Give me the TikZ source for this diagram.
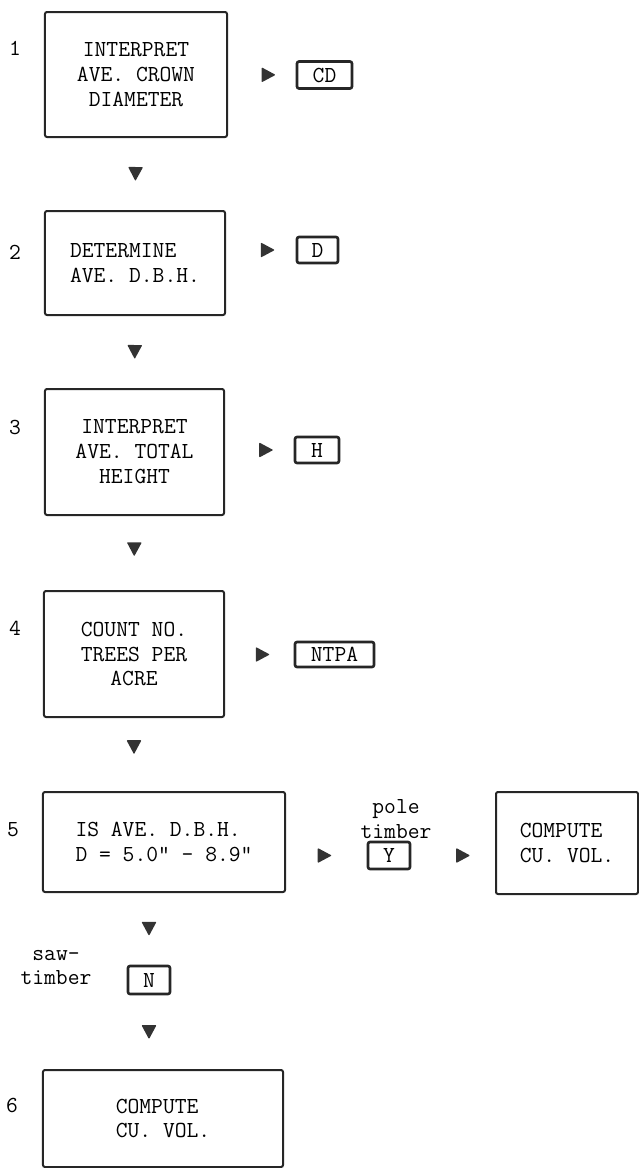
\documentclass[tikz,border=0pt]{standalone}
\usetikzlibrary{decorations.markings}

\begin{document}
\begin{tikzpicture}[
  x=1bp, y=-1bp,
  font=\ttfamily\fontsize{23}{25}\selectfont,
  stepbox/.style={rectangle, draw=black!85, line width=2bp, rounded corners=2bp, inner sep=0pt, align=center},
  valbox/.style={rectangle, draw=black!85, line width=2.6bp, rounded corners=2bp, inner sep=0pt, align=center},
  num/.style={inner sep=0pt},
  lbl/.style={inner sep=0pt, align=center},
  flow/.style={postaction={decorate}, decoration={markings, mark=at position #1 with {\fill[black!80, rounded corners=0.8bp] (7bp,0) -- (-7bp,7.5bp) -- (-7bp,-7.5bp) -- cycle;}}},
  flow/.default=0.5,
]
\useasboundingbox (0,0) rectangle (639,1168);

% steps
\node[stepbox, minimum width=182bp, minimum height=125bp] (crown) at (136,74.5) {INTERPRET\\AVE. CROWN\\DIAMETER};
\node[stepbox, minimum width=180bp, minimum height=104bp, align=left] (dbh) at (135,263) {DETERMINE\\AVE. D.B.H.};
\node[stepbox, minimum width=179bp, minimum height=126bp] (height) at (134.5,452) {INTERPRET\\AVE. TOTAL\\HEIGHT};
\node[stepbox, minimum width=180bp, minimum height=126bp] (count) at (134,654) {COUNT NO.\\TREES PER\\ACRE};
\node[stepbox, minimum width=242bp, minimum height=100bp, align=left] (test) at (164,842) {IS AVE. D.B.H.\\D = 5.0" - 8.9"};
\node[stepbox, minimum width=142bp, minimum height=102bp, align=left] (polevol) at (567,843) {COMPUTE\\CU. VOL.};
\node[stepbox, minimum width=240bp, minimum height=97bp, align=left] (sawvol) at (163,1118.5) {COMPUTE\\CU. VOL.};

% step numbers
\node[num] (s1) at (15,48)   {1};
\node[num] (s2) at (15,252)  {2};
\node[num] (s3) at (15,427)  {3};
\node[num] (s4) at (15,628)  {4};
\node[num] (s5) at (13,830)  {5};
\node[num] (s6) at (12,1105) {6};

% results
\node[valbox, minimum width=55bp, minimum height=27bp] (cd)   at (324.5,75)  {CD};
\node[valbox, minimum width=41bp, minimum height=26bp] (d)    at (317.5,250) {D};
\node[valbox, minimum width=44bp, minimum height=26bp] (h)    at (317,450)   {H};
\node[valbox, minimum width=79bp, minimum height=25bp] (ntpa) at (334.5,654.5) {NTPA};
\node[valbox, minimum width=42bp, minimum height=27bp] (yes)  at (389,855.5) {Y};
\node[valbox, minimum width=42bp, minimum height=28bp] (no)   at (149,980)   {N};
\node[lbl] (pole) at (396,819.5) {pole\\timber};
\node[lbl] (saw)  at (56,967.5)  {saw-\\timber};

% flow marks
\path[flow=0.6]  (crown) -- (cd);
\path[flow=0.6]  (d -| dbh.east) -- (d.west);
\path[flow=0.6]  (h -| height.east) -- (h.west);
\path[flow=0.55] (ntpa -| count.east) -- (ntpa.west);
\path[flow]      (crown.south) -- (dbh.north);
\path[flow]      (dbh.south) -- (height.north);
\path[flow=0.45] (height.south) -- (count.north);
\path[flow=0.4]  (count.south) -- (count.south |- test.north);
\path[flow=0.48] (yes -| test.east) -- (yes.west);
\path[flow=0.62] (yes.east) -- (yes -| polevol.west);
\path[flow]      (no |- test.south) -- (no.north);
\path[flow]      (no.south) -- (no |- sawvol.north);
\end{tikzpicture}
\end{document}
